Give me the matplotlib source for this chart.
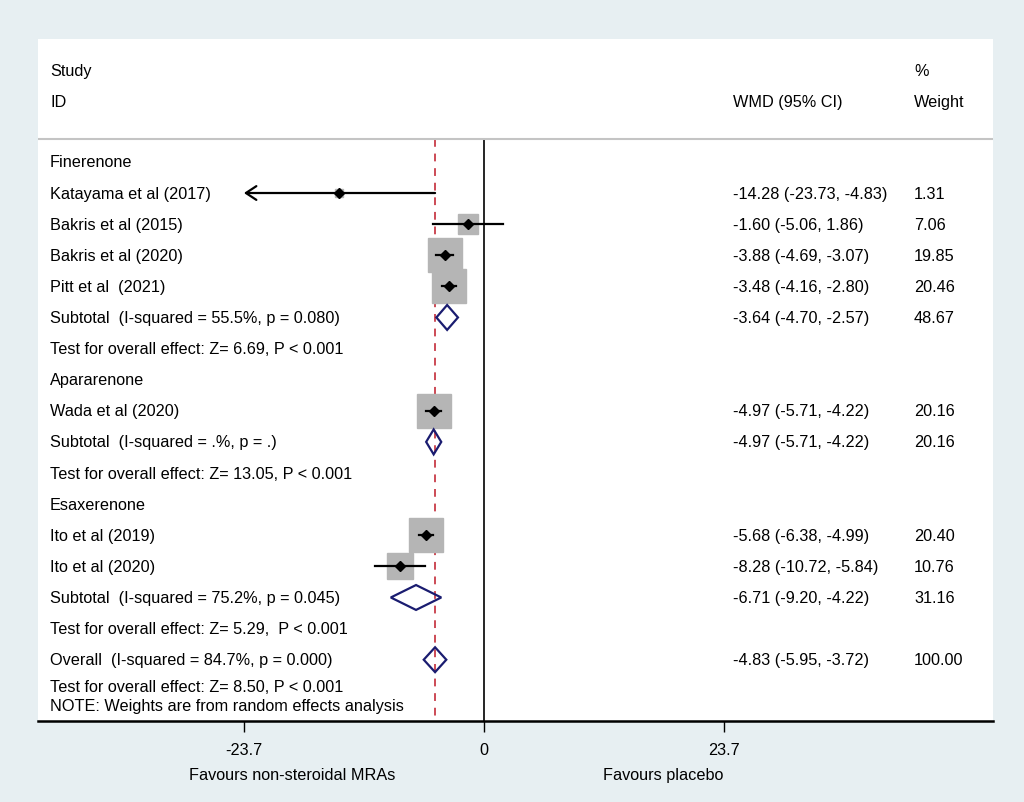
import numpy as np
import matplotlib
matplotlib.use('Agg')
import matplotlib.pyplot as plt
from matplotlib.patches import Polygon

plt.rcParams['font.family'] = ['Liberation Sans', 'DejaVu Sans']

# --- data ---
groups = ['Finerenone', 'Apararenone', 'Esaxerenone']
study_names = [
    ['Katayama et al (2017)', 'Bakris et al (2015)', 'Bakris et al (2020)', 'Pitt et al  (2021)'],
    ['Wada et al (2020)'],
    ['Ito et al (2019)', 'Ito et al (2020)'],
]
study_est = [[-14.28, -1.60, -3.88, -3.48], [-4.97], [-5.68, -8.28]]
study_lo = [[-23.73, -5.06, -4.69, -4.16], [-5.71], [-6.38, -10.72]]
study_hi = [[-4.83, 1.86, -3.07, -2.80], [-4.22], [-4.99, -5.84]]
study_wt = [[1.31, 7.06, 19.85, 20.46], [20.16], [20.40, 10.76]]

sub_labels = ['Subtotal  (I-squared = 55.5%, p = 0.080)',
              'Subtotal  (I-squared = .%, p = .)',
              'Subtotal  (I-squared = 75.2%, p = 0.045)']
sub_est = [-3.64, -4.97, -6.71]
sub_lo = [-4.70, -5.71, -9.20]
sub_hi = [-2.57, -4.22, -4.22]
sub_wt = [48.67, 20.16, 31.16]
test_labels = ['Test for overall effect: Z= 6.69, P < 0.001',
               'Test for overall effect: Z= 13.05, P < 0.001',
               'Test for overall effect: Z= 5.29,  P < 0.001']

overall_label = 'Overall  (I-squared = 84.7%, p = 0.000)'
overall_est, overall_lo, overall_hi, overall_wt = -4.83, -5.95, -3.72, 100.00
overall_test = 'Test for overall effect: Z= 8.50, P < 0.001'
note = 'NOTE: Weights are from random effects analysis'

x_ticks = [-23.7, 0, 23.7]
x_min, x_max = -23.7, 23.7

# --- styling ---
BG = '#e7eff2'
BOX = '#b5b5b5'
NAVY = '#1a1c70'
RED = '#cc4a55'
FS = 11.7

fig = plt.figure(figsize=(10.24, 8.03), dpi=100, facecolor=BG)
ax = fig.add_axes([38 / 1024, 1 - 722 / 803, 955 / 1024, 682 / 803])
ax.set_facecolor('white')

# pixel mapping: x=0 at 484px, 10.13 px per unit
ax.set_xlim((38 - 484) / 10.13, (993 - 484) / 10.13)
ax.set_ylim(17.97, -3.95)

col_label = 12 / 955
col_wmd = (733 - 38) / 955
col_wt = (914 - 38) / 955
tr = ax.get_yaxis_transform()


def txt(x, y, s):
    ax.text(x, y, s, transform=tr, fontsize=FS, va='center', ha='left')


def ci_text(est, lo, hi):
    return f'{est:.2f} ({lo:.2f}, {hi:.2f})'


def diamond(y, est, lo, hi):
    h = 0.40
    poly = Polygon([[lo, y], [est, y - h], [hi, y], [est, y + h]], closed=True,
                   facecolor='none', edgecolor=NAVY, lw=1.6, zorder=4)
    ax.add_patch(poly)


# header
txt(col_label, -2.93, 'Study')
txt(col_label, -1.93, 'ID')
txt(col_wmd, -1.93, 'WMD (95% CI)')
txt(col_wt, -2.93, '%')
txt(col_wt, -1.93, 'Weight')
ax.axhline(-0.74, color='#c4c4c4', lw=1.5)

row = 0
for g in range(len(groups)):
    txt(col_label, row, groups[g])
    row += 1
    for name, est, lo, hi, wt in zip(study_names[g], study_est[g], study_lo[g],
                                      study_hi[g], study_wt[g]):
        txt(col_label, row, name)
        txt(col_wmd, row, ci_text(est, lo, hi))
        txt(col_wt, row, f'{wt:.2f}')
        side = 7.7 * np.sqrt(wt) * 0.72
        ax.plot(est, row, marker='s', ms=side, color=BOX, mec=BOX, zorder=2)
        if lo < x_min:
            ax.annotate('', xy=(x_min, row), xytext=(hi, row),
                        arrowprops=dict(arrowstyle='->,head_length=0.5,head_width=0.33',
                                        lw=1.6, color='black', mutation_scale=15,
                                        shrinkA=0, shrinkB=0), zorder=3)
        else:
            ax.plot([lo, hi], [row, row], color='black', lw=1.6, zorder=3)
        ax.plot(est, row, marker='D', ms=5.5, color='black', zorder=5)
        row += 1
    txt(col_label, row, sub_labels[g])
    txt(col_wmd, row, ci_text(sub_est[g], sub_lo[g], sub_hi[g]))
    txt(col_wt, row, f'{sub_wt[g]:.2f}')
    diamond(row, sub_est[g], sub_lo[g], sub_hi[g])
    row += 1
    txt(col_label, row, test_labels[g])
    row += 1

txt(col_label, row, overall_label)
txt(col_wmd, row, ci_text(overall_est, overall_lo, overall_hi))
txt(col_wt, row, f'{overall_wt:.2f}')
diamond(row, overall_est, overall_lo, overall_hi)
txt(col_label, row + 0.86, overall_test)
txt(col_label, row + 1.47, note)

# reference lines
ax.plot([0, 0], [-0.74, 17.97], color='black', lw=1.2, zorder=1)
ax.plot([overall_est, overall_est], [-0.74, 17.97], color=RED, lw=1.4,
        dashes=(4, 3.5), zorder=1)

# axis styling
for side in ['top', 'left', 'right']:
    ax.spines[side].set_visible(False)
ax.spines['bottom'].set_linewidth(1.8)
ax.set_yticks([])
ax.set_xticks(x_ticks)
ax.set_xticklabels(['-23.7', '0', '23.7'], fontsize=FS)
ax.tick_params(axis='x', length=8, width=1, pad=7, direction='out')

fig.text(292 / 1024, 1 - 776 / 803, 'Favours non-steroidal MRAs', fontsize=FS,
         ha='center', va='center')
fig.text(663 / 1024, 1 - 776 / 803, 'Favours placebo', fontsize=FS,
         ha='center', va='center')

fig.savefig('out.png', dpi=100, facecolor=BG)
